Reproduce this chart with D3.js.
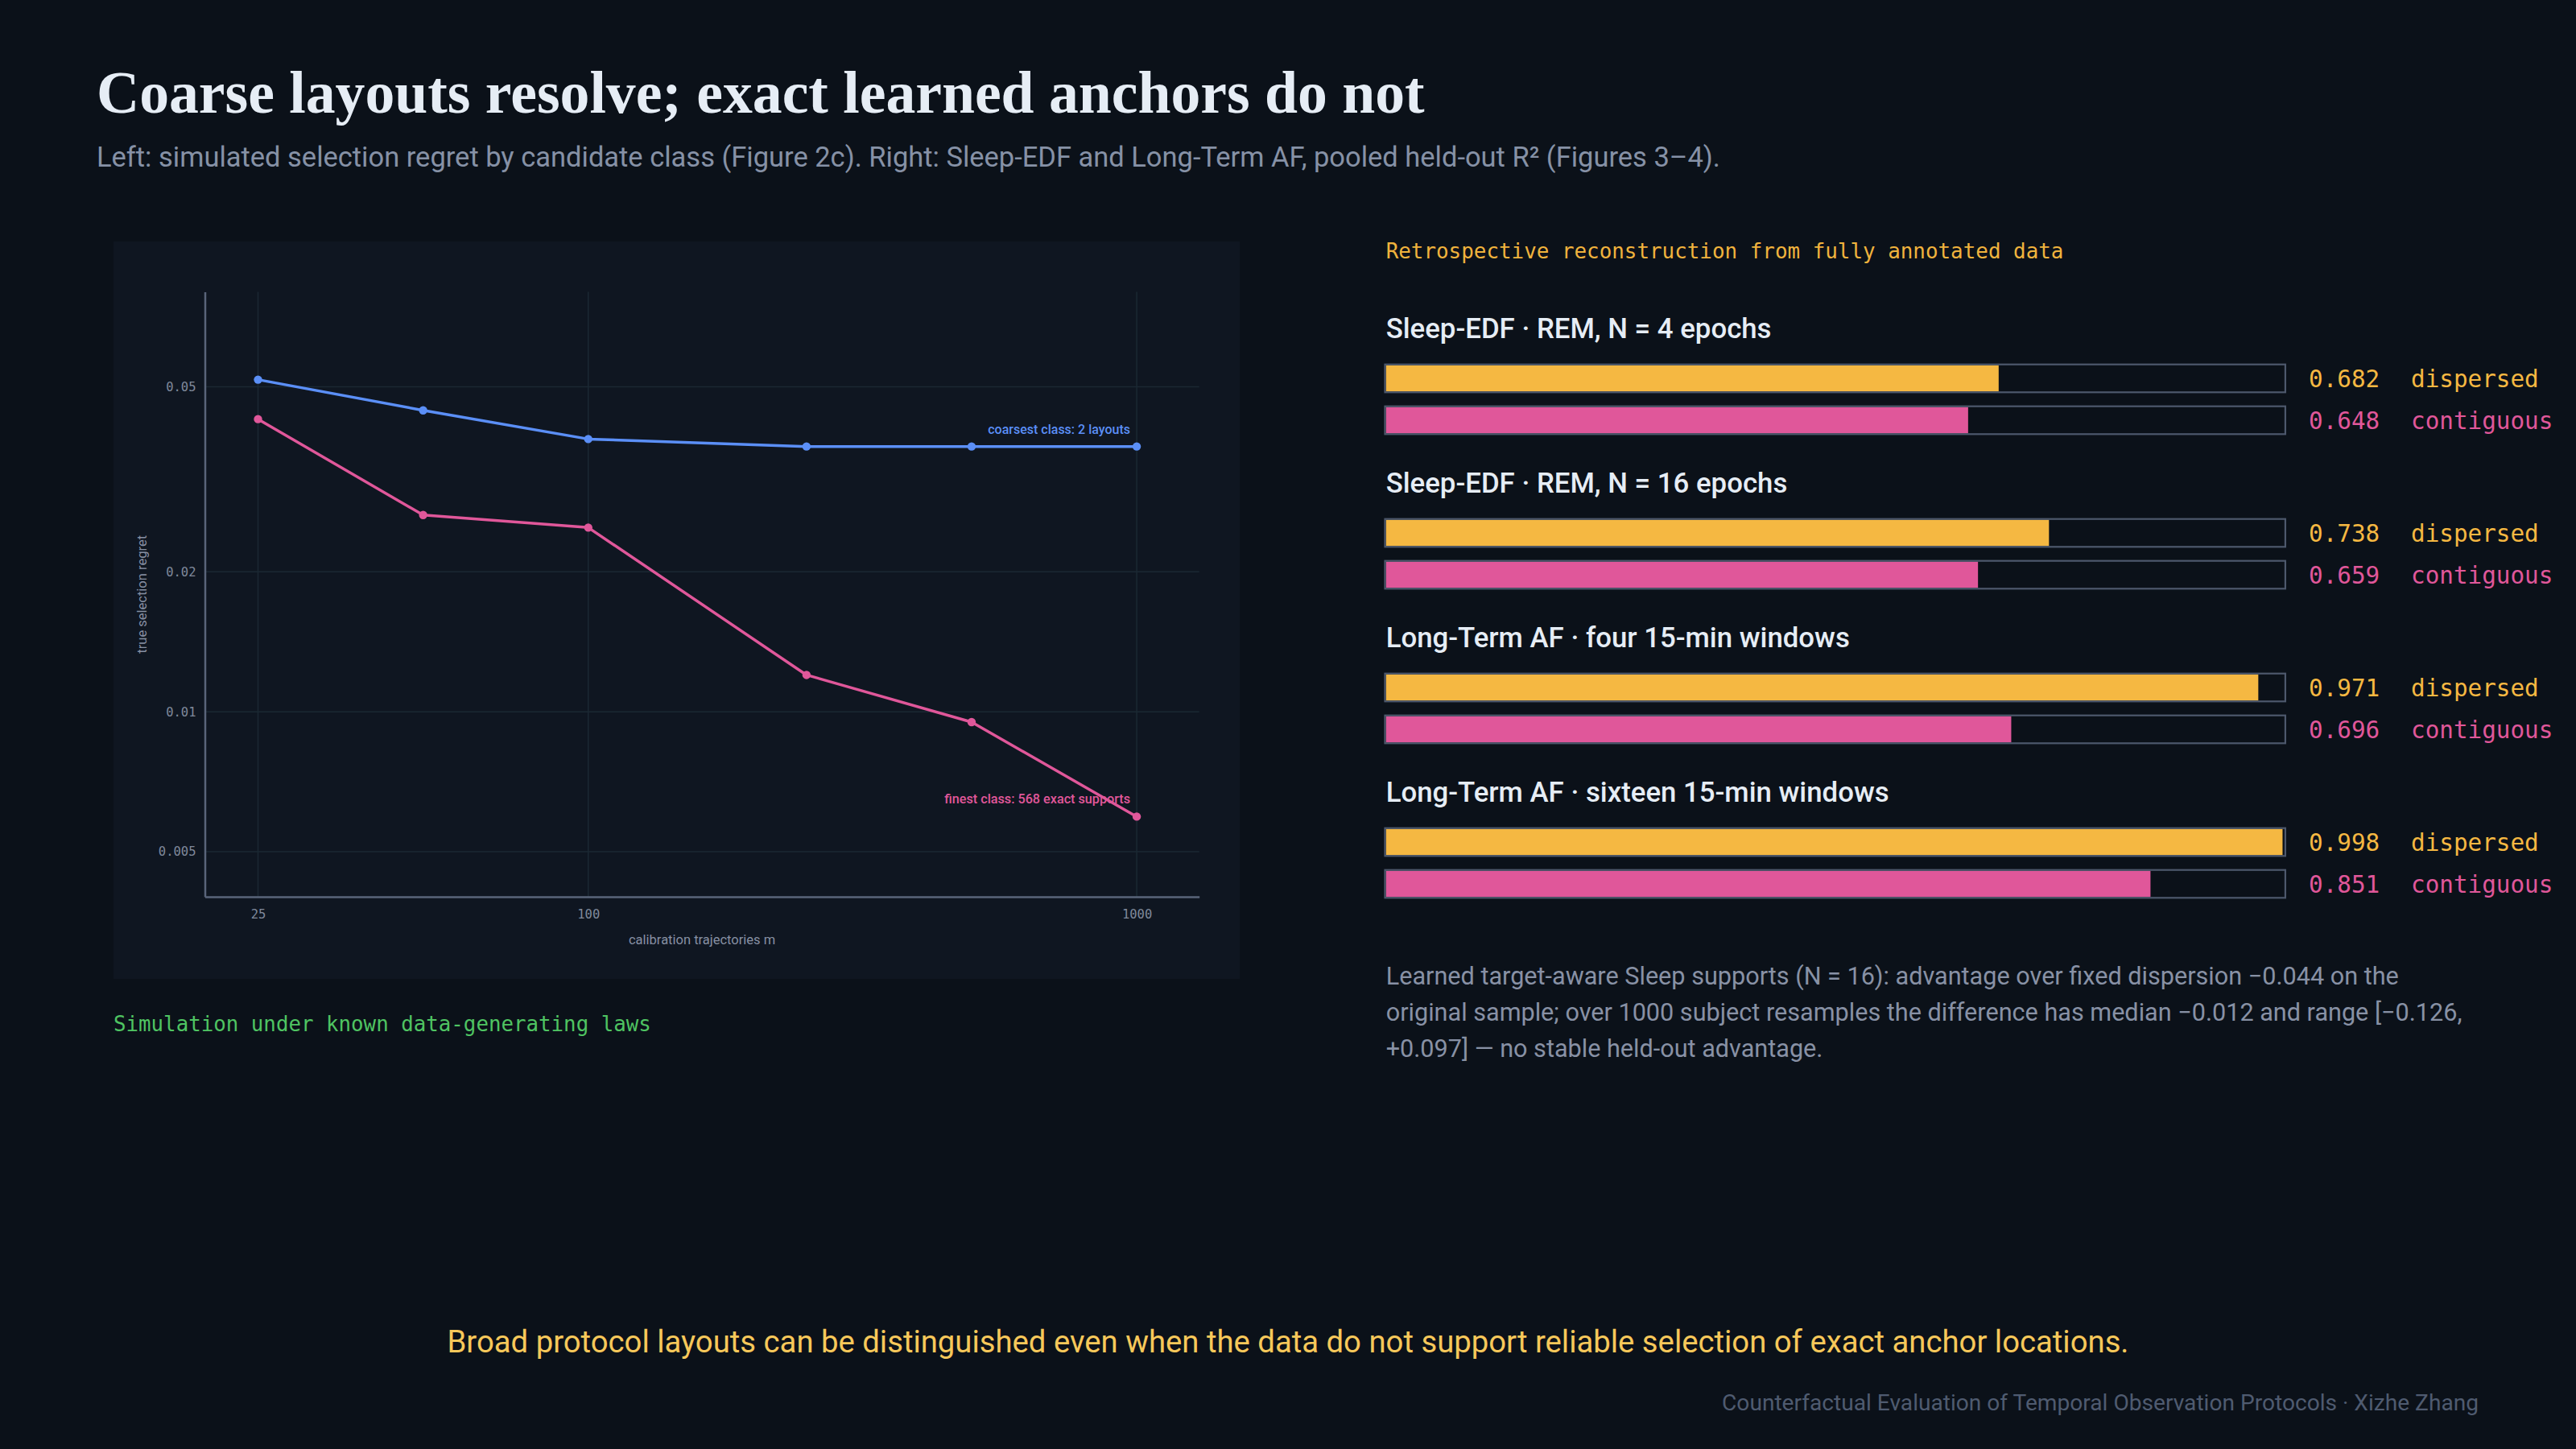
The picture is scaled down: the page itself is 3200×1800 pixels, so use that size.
<!DOCTYPE html>
<html>
<head>
<meta charset="utf-8">
<script src="https://cdn.jsdelivr.net/npm/d3@7"></script>
<style>
  body { margin: 0; background: #0b1119; }
  svg { display: block; }
</style>
</head>
<body>
<div id="chart"></div>
<script>
// ---- data ----
const trajectories = [25, 50, 100, 250, 500, 1000];
const coarsest = [0.0518, 0.0445, 0.0386, 0.0372, 0.0372, 0.0372];
const finest = [0.0426, 0.0265, 0.0249, 0.0120, 0.0095, 0.00595];
const xTicks = [25, 100, 1000];
const yTicks = [0.005, 0.01, 0.02, 0.05];
const yTickLabels = ["0.005", "0.01", "0.02", "0.05"];

const groups = [
  "Sleep-EDF · REM, N = 4 epochs",
  "Sleep-EDF · REM, N = 16 epochs",
  "Long-Term AF · four 15-min windows",
  "Long-Term AF · sixteen 15-min windows"
];
const dispersed = [0.682, 0.738, 0.971, 0.998];
const contiguous = [0.648, 0.659, 0.696, 0.851];
const layouts = ["dispersed", "contiguous"];

const footnote = [
  "Learned target-aware Sleep supports (N = 16): advantage over fixed dispersion \u22120.044 on the",
  "original sample; over 1000 subject resamples the difference has median \u22120.012 and range [\u22120.126,",
  "+0.097] \u2014 no stable held-out advantage."
];

// ---- page ----
let width = 3200;
let height = 1800;
let sans = "Roboto, 'Noto Sans', sans-serif";
let mono = "'DejaVu Sans Mono', 'Liberation Mono', monospace";
let serif = "'Liberation Serif', 'DejaVu Serif', serif";
let blue = "#5b8ff7";
let pink = "#e0579a";
let yellow = "#f5b842";

let svg = d3.select("#chart").append("svg")
  .attr("width", width)
  .attr("height", height);

svg.append("rect")
  .attr("width", width)
  .attr("height", height)
  .attr("fill", "#0b1119");

// squeeze/stretch a text's font size until it spans the given width
function fit(sel, w) {
  let cur = sel.node().getComputedTextLength();
  let fs = parseFloat(sel.attr("font-size"));
  sel.attr("font-size", fs * w / cur);
  return fs * w / cur;
}

let title = svg.append("text")
  .attr("x", 120).attr("y", 140)
  .attr("font-family", serif).attr("font-weight", 700)
  .attr("font-size", 70).attr("fill", "#e6edf5")
  .text("Coarse layouts resolve; exact learned anchors do not");
fit(title, 1650);

let subtitle = svg.append("text")
  .attr("x", 120).attr("y", 207)
  .attr("font-family", sans).attr("font-size", 32).attr("fill", "#8691a6")
  .text("Left: simulated selection regret by candidate class (Figure 2c). Right: Sleep-EDF and Long-Term AF, pooled held-out R\u00b2 (Figures 3\u20134).");
fit(subtitle, 2017);

// ---- left: line chart ----
let panel = {x: 141, y: 300, w: 1399, h: 916};
svg.append("rect")
  .attr("x", panel.x).attr("y", panel.y)
  .attr("width", panel.w).attr("height", panel.h)
  .attr("fill", "#0f1621");

let xScale = d3.scaleLog()
  .domain([20, 1300])
  .range([254.5, 1489.7]);

let yScale = d3.scaleLog()
  .domain([0.004, 0.08])
  .range([1114, 362.6]);

let grid = svg.append("g").attr("stroke", "#1b2833").attr("stroke-width", 1.5);
grid.selectAll(".gx").data(xTicks).enter().append("line")
  .attr("x1", d => xScale(d)).attr("x2", d => xScale(d))
  .attr("y1", yScale.range()[1]).attr("y2", yScale.range()[0]);
grid.selectAll(".gy").data(yTicks).enter().append("line")
  .attr("x1", xScale.range()[0]).attr("x2", xScale.range()[1])
  .attr("y1", d => yScale(d)).attr("y2", d => yScale(d));

let xAxis = d3.axisBottom(xScale)
  .tickValues(xTicks)
  .tickFormat(d3.format("d"))
  .tickSize(0)
  .tickPadding(16);

let yAxis = d3.axisLeft(yScale)
  .tickValues(yTicks)
  .tickFormat((d, i) => yTickLabels[i])
  .tickSize(0)
  .tickPadding(11);

function styleAxis(g) {
  g.select(".domain").attr("stroke", "#59647a").attr("stroke-width", 2.5);
  g.selectAll("text")
    .attr("font-family", mono).attr("font-size", 15.5)
    .attr("fill", "#7f899b");
}

svg.append("g")
  .attr("transform", `translate(0,${yScale.range()[0]})`)
  .call(xAxis)
  .call(styleAxis);

svg.append("g")
  .attr("transform", `translate(${xScale.range()[0]},0)`)
  .call(yAxis)
  .call(styleAxis);

svg.append("text")
  .attr("x", (xScale.range()[0] + xScale.range()[1]) / 2).attr("y", 1173)
  .attr("text-anchor", "middle")
  .attr("font-family", sans).attr("font-size", 16.5).attr("fill", "#8790a3")
  .text("calibration trajectories m");

svg.append("text")
  .attr("transform", `translate(182,${(yScale.range()[0] + yScale.range()[1]) / 2}) rotate(-90)`)
  .attr("text-anchor", "middle")
  .attr("font-family", sans).attr("font-size", 16.5).attr("fill", "#8790a3")
  .text("true selection regret");

let series = [
  {name: "coarsest class: 2 layouts", values: coarsest, color: blue},
  {name: "finest class: 568 exact supports", values: finest, color: pink}
];

let line = d3.line()
  .x((d, i) => xScale(trajectories[i]))
  .y(d => yScale(d));

series.forEach(s => {
  svg.append("path")
    .attr("d", line(s.values))
    .attr("fill", "none")
    .attr("stroke", s.color)
    .attr("stroke-width", 3.5)
    .attr("stroke-linejoin", "round");

  svg.selectAll(null).data(s.values).enter().append("circle")
    .attr("cx", (d, i) => xScale(trajectories[i]))
    .attr("cy", d => yScale(d))
    .attr("r", 5.2)
    .attr("fill", s.color);

  let last = s.values.length - 1;
  let lbl = svg.append("text")
    .attr("x", xScale(trajectories[last]) - 8)
    .attr("y", yScale(s.values[last]) - 16)
    .attr("text-anchor", "end")
    .attr("font-family", sans).attr("font-weight", 500)
    .attr("font-size", 16).attr("fill", s.color)
    .text(s.name);
  fit(lbl, s === series[0] ? 177 : 231);
});

svg.append("text")
  .attr("x", 141).attr("y", 1281)
  .attr("font-family", mono).attr("font-size", 25.8).attr("fill", "#4fc462")
  .text("Simulation under known data-generating laws");

// ---- right: R² bars ----
let x0 = 1721.7;
let barScale = d3.scaleLinear().domain([0, 1]).range([x0, x0 + 1116]);
let groupY = d3.scalePoint().domain(groups).range([420, 996]);
let rowY = d3.scalePoint().domain(layouts).range([452.7, 504.7]);
let layoutColor = d3.scaleOrdinal().domain(layouts).range([yellow, pink]);
let barH = 34.6;

svg.append("text")
  .attr("x", x0).attr("y", 321)
  .attr("font-family", mono).attr("font-size", 25.9).attr("fill", "#f0b33d")
  .text("Retrospective reconstruction from fully annotated data");

let groupFont = null;
groups.forEach((gname, gi) => {
  let base = groupY(gname);
  let t = svg.append("text")
    .attr("x", x0).attr("y", base)
    .attr("font-family", sans).attr("font-weight", 500)
    .attr("font-size", 34).attr("fill", "#e6edf5")
    .text(gname);
  if (groupFont === null) groupFont = fit(t, 479);
  else t.attr("font-size", groupFont);

  let vals = [dispersed[gi], contiguous[gi]];
  layouts.forEach((lay, li) => {
    let top = base - groupY(groups[0]) + rowY(lay);
    let col = layoutColor(lay);
    svg.append("rect")
      .attr("x", barScale(0)).attr("y", top + 1)
      .attr("width", barScale(vals[li]) - barScale(0))
      .attr("height", barH - 2)
      .attr("fill", col);
    svg.append("rect")
      .attr("x", barScale(0) - 1.2).attr("y", top)
      .attr("width", barScale(1) - barScale(0) + 2.4)
      .attr("height", barH)
      .attr("fill", "none")
      .attr("stroke", "#4d586c").attr("stroke-width", 2.2);
    let cy = top + barH / 2 + 10.5;
    svg.append("text")
      .attr("x", 2868).attr("y", cy)
      .attr("font-family", mono).attr("font-size", 29.3).attr("fill", col)
      .text(d3.format(".3f")(vals[li]));
    svg.append("text")
      .attr("x", 2995).attr("y", cy)
      .attr("font-family", mono).attr("font-size", 29.3).attr("fill", col)
      .text(lay);
  });
});

let noteLines = footnote.map((ln, i) => svg.append("text")
  .attr("x", x0).attr("y", 1223 + i * 45)
  .attr("font-family", sans).attr("font-size", 28).attr("fill", "#8891a5")
  .text(ln));
let noteFont = fit(noteLines[1], 1337);
noteLines.forEach(t => t.attr("font-size", noteFont));

let bottom = svg.append("text")
  .attr("x", 1600).attr("y", 1680)
  .attr("text-anchor", "middle")
  .attr("font-family", sans).attr("font-size", 40).attr("fill", "#f7c85a")
  .text("Broad protocol layouts can be distinguished even when the data do not support reliable selection of exact anchor locations.");
fit(bottom, 2090);

let footer = svg.append("text")
  .attr("x", 3079).attr("y", 1752)
  .attr("text-anchor", "end")
  .attr("font-family", sans).attr("font-size", 26).attr("fill", "#4f5b70")
  .text("Counterfactual Evaluation of Temporal Observation Protocols \u00b7 Xizhe Zhang");
fit(footer, 940);
</script>
</body>
</html>
